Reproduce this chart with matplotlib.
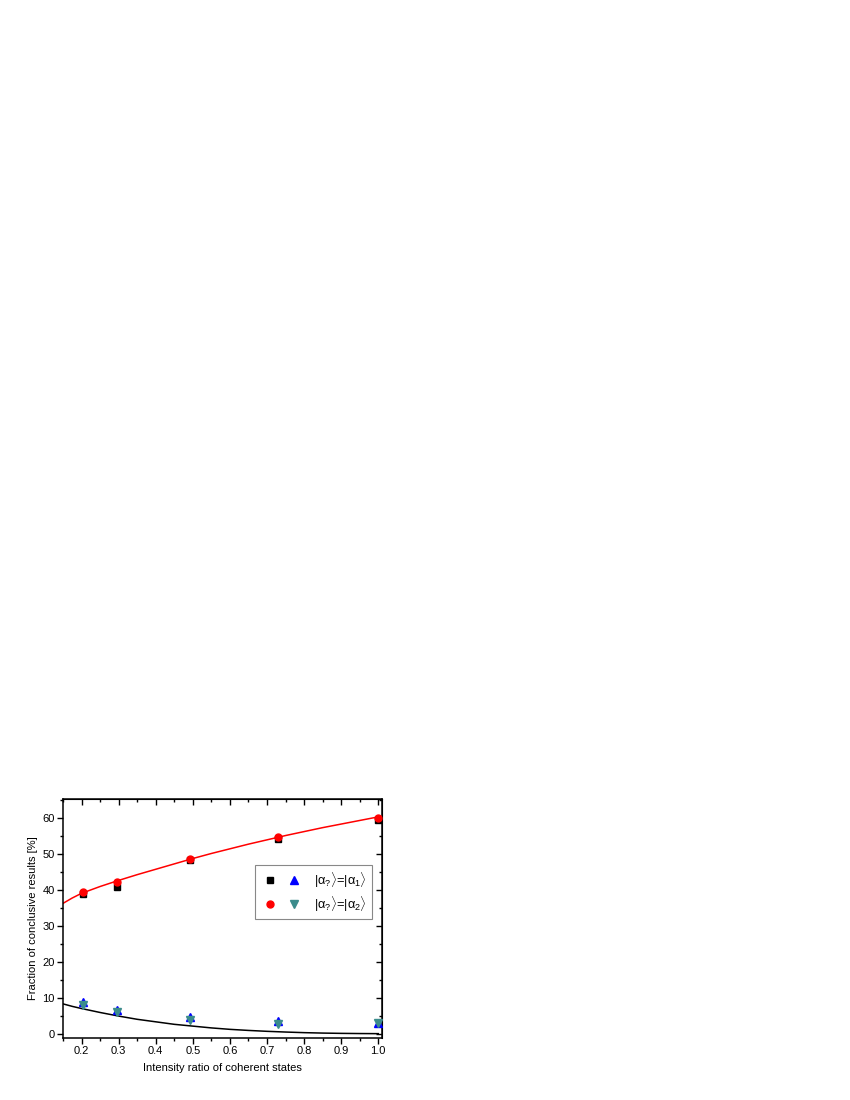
import matplotlib
matplotlib.use('Agg')
import matplotlib.pyplot as plt
from matplotlib.legend_handler import HandlerTuple
from matplotlib.ticker import MultipleLocator

plt.rcParams['font.family'] = ['Liberation Sans', 'DejaVu Sans']
plt.rcParams['mathtext.fontset'] = 'custom'
plt.rcParams['mathtext.rm'] = 'Liberation Sans'
plt.rcParams['mathtext.it'] = 'Liberation Sans'

# measured points
ratio = [0.203, 0.295, 0.493, 0.730, 1.000]
conclusive_a1 = [39.0, 40.8, 48.3, 54.2, 59.6]
conclusive_a2 = [39.4, 42.3, 48.8, 54.9, 60.0]
error_a1 = [8.8, 6.7, 4.6, 3.6, 3.0]
error_a2 = [7.9, 6.0, 3.9, 2.8, 2.9]

# theory curves
theory_x = [0.15, 0.175, 0.2, 0.25, 0.3, 0.35, 0.4, 0.45, 0.5, 0.55, 0.6, 0.65,
            0.7, 0.75, 0.8, 0.85, 0.9, 0.95, 1.0]
theory_conclusive = [36.3, 37.8, 39.1, 41.0, 42.7, 44.3, 45.8, 47.3, 48.8, 50.2,
                     51.5, 52.8, 54.0, 55.2, 56.3, 57.4, 58.4, 59.4, 60.4]
theory_error = [8.3, 7.6, 7.0, 5.9, 4.9, 4.0, 3.3, 2.6, 2.1, 1.6, 1.2, 0.9,
                0.65, 0.45, 0.28, 0.16, 0.08, 0.03, 0.0]

teal = '#3b8c8c'

fig = plt.figure(figsize=(8.5, 11), dpi=100)
ax = fig.add_axes([0.0741, 0.0564, 0.3753, 0.2173])

ax.plot(theory_x, theory_conclusive, color='red', lw=1.1, zorder=2)
ax.plot(theory_x, theory_error, color='black', lw=1.1, zorder=2)

h_sq, = ax.plot(ratio, conclusive_a1, 's', color='black', ms=4.6, zorder=3)
h_ci, = ax.plot(ratio, conclusive_a2, 'o', color='red', ms=5, zorder=4)
h_up, = ax.plot(ratio, error_a1, '^', color='blue', ms=5.6, zorder=3)
h_dn, = ax.plot(ratio, error_a2, 'v', color=teal, ms=5.6, zorder=4)

ax.set_xlim(0.15, 1.01)
ax.set_ylim(-1.2, 65.4)
ax.xaxis.set_major_locator(MultipleLocator(0.1))
ax.xaxis.set_minor_locator(MultipleLocator(0.05))
ax.yaxis.set_major_locator(MultipleLocator(10))
ax.yaxis.set_minor_locator(MultipleLocator(5))
ax.set_xticks([0.2, 0.3, 0.4, 0.5, 0.6, 0.7, 0.8, 0.9, 1.0])
ax.set_xticklabels(['0.2', '0.3', '0.4', '0.5', '0.6', '0.7', '0.8', '0.9', '1.0'])
ax.tick_params(which='major', direction='out', length=4, width=1, labelsize=8, pad=2)
ax.tick_params(which='minor', direction='out', length=2.5, width=1)
for s in ax.spines.values():
    s.set_linewidth(1.1)

# mirrored ticks on top and right, pointing inward
top = ax.secondary_xaxis('top')
top.xaxis.set_major_locator(MultipleLocator(0.1))
top.xaxis.set_minor_locator(MultipleLocator(0.05))
top.tick_params(which='major', direction='in', length=4, width=1, labeltop=False)
top.tick_params(which='minor', direction='in', length=2.5, width=1)
right = ax.secondary_yaxis('right')
right.yaxis.set_major_locator(MultipleLocator(10))
right.yaxis.set_minor_locator(MultipleLocator(5))
right.tick_params(which='major', direction='in', length=4, width=1, labelright=False)
right.tick_params(which='minor', direction='in', length=2.5, width=1)

ax.set_xlabel('Intensity ratio of coherent states', fontsize=8, labelpad=5)
ax.set_ylabel('Fraction of conclusive results [%]', fontsize=8, labelpad=3)

labels = [r'$|\alpha_?\rangle$=$|\alpha_1\rangle$', r'$|\alpha_?\rangle$=$|\alpha_2\rangle$']
leg = ax.legend([(h_sq, h_up), (h_ci, h_dn)], labels,
                handler_map={tuple: HandlerTuple(ndivide=None, pad=0.45)},
                loc='upper left', bbox_to_anchor=(0.602, 0.724), borderaxespad=0,
                fontsize=9.3, handlelength=3.35, handletextpad=0.8,
                borderpad=0.4, labelspacing=0.32, fancybox=False,
                edgecolor='#888888', framealpha=1)
leg.get_frame().set_linewidth(0.8)

fig.savefig('out.png', dpi=100)
